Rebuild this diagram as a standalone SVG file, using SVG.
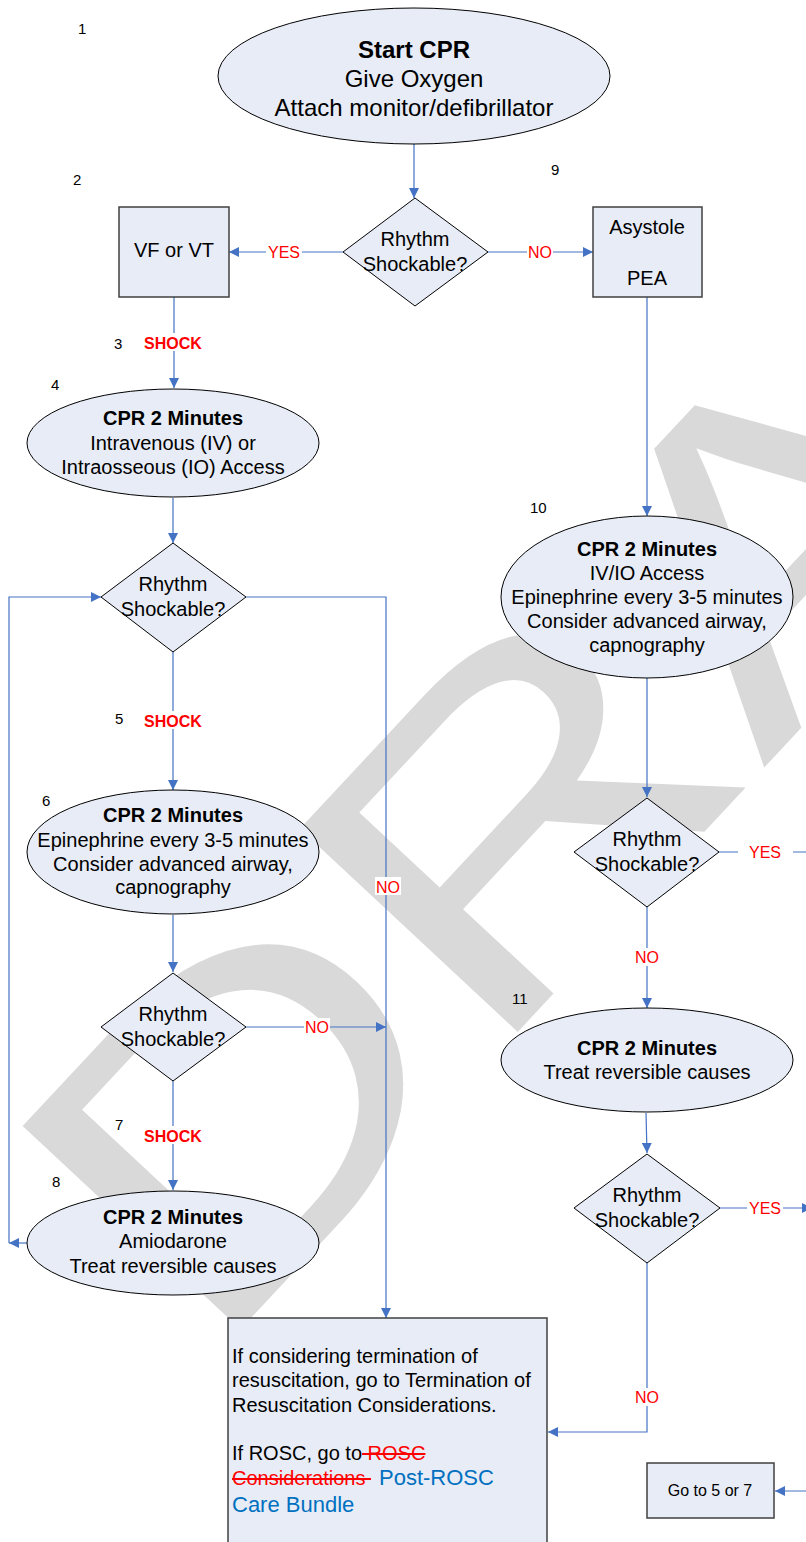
<svg xmlns="http://www.w3.org/2000/svg" width="806" height="1542" viewBox="0 0 806 1542">
<defs>
<style>
.n{fill:#e7ecf6;stroke:#000;stroke-width:1}
.bx{fill:#e7ecf6;stroke:#404040;stroke-width:1.5}
.t{font-family:"Liberation Sans",Arial,sans-serif;font-size:20px;fill:#000;text-anchor:middle}
.b{font-weight:bold}
.num{font-family:"Liberation Sans",Arial,sans-serif;font-size:15px;fill:#000}
.lbl{font-family:"Liberation Sans",Arial,sans-serif;font-size:16px;fill:#ff0000;text-anchor:middle}
.c{stroke:#4472c4;stroke-width:1.2;fill:none}
.ca{stroke:#4472c4;stroke-width:1.2;fill:none;marker-end:url(#ah)}
.bg{fill:#fff}
</style>
<marker id="ah" viewBox="0 0 10 10" refX="10" refY="5" markerWidth="10" markerHeight="10" markerUnits="userSpaceOnUse" orient="auto">
<path d="M0,0 L10,5 L0,10 z" fill="#4472c4"/>
</marker>
</defs>
<rect width="806" height="1542" fill="#fff"/>
<text id="watermark" x="0" y="0" font-family="'Liberation Sans',Arial,sans-serif" font-size="433" transform="translate(209 1363) rotate(-47) scale(1.3 1)" fill="#d9d9d9">DRAFT</text>

<g id="connectors">
<path class="ca" d="M414,143 V198"/>
<path class="ca" d="M343,252 H229"/>
<path class="ca" d="M488,252 H593"/>
<path class="ca" d="M174,297 V388"/>
<path class="ca" d="M173,498 V543"/>
<path class="ca" d="M173,652 V790"/>
<path class="ca" d="M173,915 V972"/>
<path class="ca" d="M173,1081 V1190"/>
<path class="ca" d="M27,1243 H9"/>
<path class="ca" d="M9,1243 V597 H101"/>
<path class="ca" d="M246,597 H386 V1318"/>
<path class="ca" d="M246,1027 H386"/>
<path class="ca" d="M647,297 V516"/>
<path class="ca" d="M647,678 V797"/>
<path class="c" d="M719,852 H806"/>
<path class="ca" d="M647,907 V1008"/>
<path class="ca" d="M646,1113 L647,1153"/>
<path class="ca" d="M720,1208 H812"/>
<path class="ca" d="M647,1263 V1432 H548"/>
<path class="ca" d="M812,1491 H775"/>
<g id="labels">
<rect class="bg" x="266" y="243" width="36" height="18"/><text class="lbl" x="284" y="258">YES</text>
<rect class="bg" x="527" y="243" width="26" height="18"/><text class="lbl" x="540" y="258">NO</text>
<rect class="bg" x="141" y="333" width="64" height="18"/><text class="lbl b" x="173" y="349">SHOCK</text>
<rect class="bg" x="141" y="711" width="64" height="18"/><text class="lbl b" x="173" y="727">SHOCK</text>
<rect class="bg" x="141" y="1126" width="64" height="18"/><text class="lbl b" x="173" y="1142">SHOCK</text>
<rect class="bg" x="375" y="877" width="26" height="18"/><text class="lbl" x="388" y="893">NO</text>
<rect class="bg" x="304" y="1018" width="26" height="18"/><text class="lbl" x="317" y="1033">NO</text>
<rect class="bg" x="738" y="843" width="55" height="18"/><text class="lbl" x="765" y="858">YES</text>
<rect class="bg" x="634" y="948" width="26" height="18"/><text class="lbl" x="647" y="963">NO</text>
<rect class="bg" x="747" y="1199" width="36" height="18"/><text class="lbl" x="765" y="1214">YES</text>
<rect class="bg" x="634" y="1388" width="26" height="18"/><text class="lbl" x="647" y="1403">NO</text>
</g>
</g>

<g id="steps">
<text class="num" x="78" y="34">1</text>
<text class="num" x="73" y="185">2</text>
<text class="num" x="551" y="175">9</text>
<text class="num" x="114" y="349">3</text>
<text class="num" x="51" y="390">4</text>
<text class="num" x="115" y="724">5</text>
<text class="num" x="42" y="806">6</text>
<text class="num" x="115" y="1130">7</text>
<text class="num" x="52" y="1187">8</text>
<text class="num" x="530" y="513">10</text>
<text class="num" x="512" y="1004">11</text>
</g>

<g id="n1">
<ellipse class="n" cx="414" cy="76" rx="196" ry="68"/>
<text class="t b" x="414" y="58" style="font-size:24px">Start CPR</text>
<text class="t" x="414" y="87" style="font-size:24px">Give Oxygen</text>
<text class="t" x="414" y="116" style="font-size:24px">Attach monitor/defibrillator</text>
</g>
<g id="d1">
<polygon class="n" points="415,198 488,252 415,306 343,252"/>
<text class="t" x="415" y="246">Rhythm</text>
<text class="t" x="415" y="271">Shockable?</text>
</g>
<g id="n2">
<rect class="bx" x="119" y="207" width="110" height="90"/>
<text class="t" x="174" y="257">VF or VT</text>
</g>
<g id="n9">
<rect class="bx" x="593" y="207" width="109" height="90"/>
<text class="t" x="647" y="234">Asystole</text>
<text class="t" x="647" y="285">PEA</text>
</g>
<g id="n4">
<ellipse class="n" cx="173" cy="443" rx="146" ry="54"/>
<text class="t b" x="173" y="425">CPR 2 Minutes</text>
<text class="t" x="173" y="450">Intravenous (IV) or</text>
<text class="t" x="173" y="474">Intraosseous (IO) Access</text>
</g>
<g id="d2">
<polygon class="n" points="173,543 246,597 173,652 101,597"/>
<text class="t" x="173" y="591">Rhythm</text>
<text class="t" x="173" y="616">Shockable?</text>
</g>
<g id="n6">
<ellipse class="n" cx="173" cy="852" rx="146" ry="62"/>
<text class="t b" x="173" y="822">CPR 2 Minutes</text>
<text class="t" x="173" y="847">Epinephrine every 3-5 minutes</text>
<text class="t" x="173" y="871">Consider advanced airway,</text>
<text class="t" x="173" y="894">capnography</text>
</g>
<g id="d3">
<polygon class="n" points="173,973 246,1027 173,1081 101,1027"/>
<text class="t" x="173" y="1021">Rhythm</text>
<text class="t" x="173" y="1046">Shockable?</text>
</g>
<g id="n8">
<ellipse class="n" cx="173" cy="1243" rx="146" ry="52"/>
<text class="t b" x="173" y="1224">CPR 2 Minutes</text>
<text class="t" x="173" y="1248">Amiodarone</text>
<text class="t" x="173" y="1273">Treat reversible causes</text>
</g>
<g id="n10">
<ellipse class="n" cx="647" cy="597" rx="146" ry="81"/>
<text class="t b" x="647" y="556">CPR 2 Minutes</text>
<text class="t" x="647" y="580">IV/IO Access</text>
<text class="t" x="647" y="604">Epinephrine every 3-5 minutes</text>
<text class="t" x="647" y="628">Consider advanced airway,</text>
<text class="t" x="647" y="652">capnography</text>
</g>
<g id="d4">
<polygon class="n" points="647,798 719,852 647,907 574,852"/>
<text class="t" x="647" y="846">Rhythm</text>
<text class="t" x="647" y="871">Shockable?</text>
</g>
<g id="n11">
<ellipse class="n" cx="647" cy="1060" rx="146" ry="52"/>
<text class="t b" x="647" y="1055">CPR 2 Minutes</text>
<text class="t" x="647" y="1079">Treat reversible causes</text>
</g>
<g id="d5">
<polygon class="n" points="647,1154 720,1208 647,1263 574,1208"/>
<text class="t" x="647" y="1202">Rhythm</text>
<text class="t" x="647" y="1227">Shockable?</text>
</g>
<g id="n12">
<rect class="bx" x="228" y="1318" width="319" height="240"/>
<text class="t" x="232" y="1363" style="text-anchor:start">If considering termination of</text>
<text class="t" x="232" y="1387" style="text-anchor:start">resuscitation, go to Termination of</text>
<text class="t" x="232" y="1412" style="text-anchor:start">Resuscitation Considerations.</text>
<text class="t" x="232" y="1460" style="text-anchor:start" xml:space="preserve">If ROSC, go to<tspan fill="#ff0000" style="text-decoration:line-through"> ROSC</tspan></text>
<text class="t" x="232" y="1485" style="text-anchor:start" xml:space="preserve"><tspan fill="#ff0000" style="text-decoration:line-through">Considerations </tspan><tspan x="379" fill="#0070c0" style="font-size:22px">Post-ROSC</tspan></text>
<text class="t" x="232" y="1512" style="text-anchor:start;font-size:22px;fill:#0070c0">Care Bundle</text>
</g>
<g id="n13">
<rect class="bx" x="647" y="1463" width="127" height="55"/>
<text class="t" x="710" y="1496" style="font-size:16px">Go to 5 or 7</text>
</g>
</svg>
